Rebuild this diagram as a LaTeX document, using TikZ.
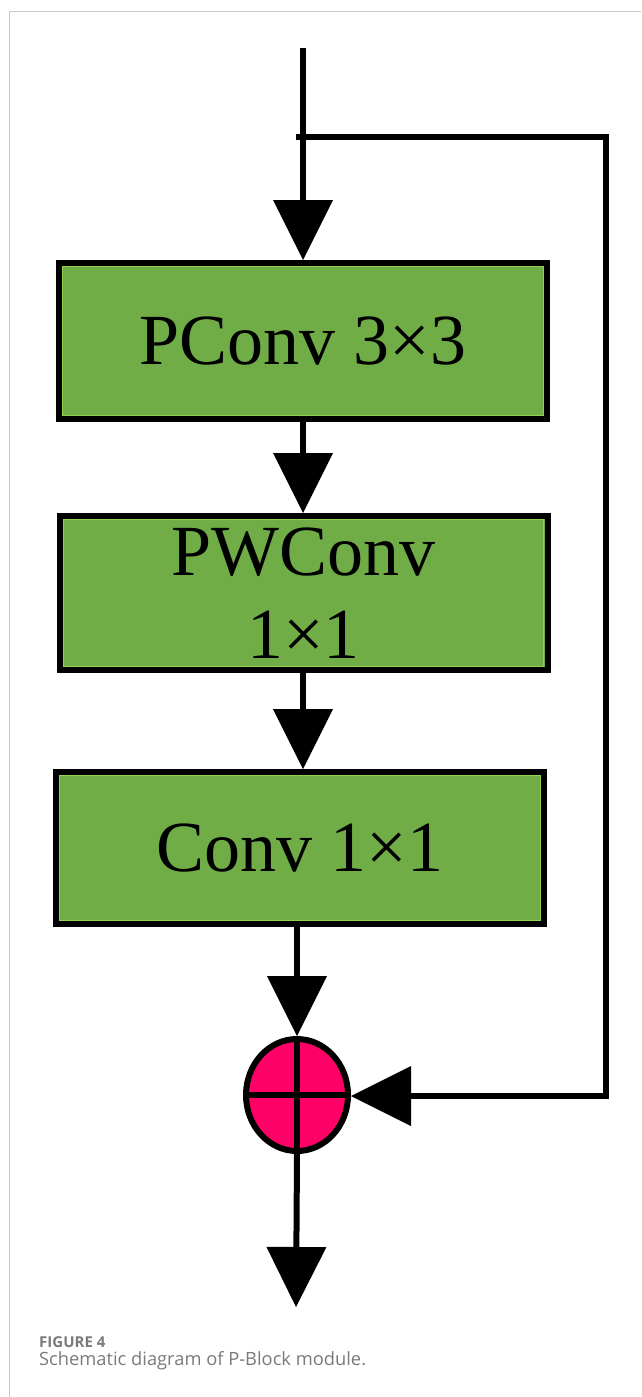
\documentclass[tikz,border=0pt]{standalone}
\usepackage{fontspec}
\setmainfont{Liberation Serif}
\newfontfamily\capfont{Open Sans}
\usetikzlibrary{arrows.meta,shapes.geometric}

\definecolor{boxgreen}{HTML}{70AD47}
\definecolor{rimgreen}{HTML}{92D050}
\definecolor{summagenta}{HTML}{FF0066}
\definecolor{framegray}{HTML}{C8C8C8}
\definecolor{capgray}{HTML}{7A7A7A}

\tikzset{
  layerbox/.style={draw=black, line width=6pt, fill=boxgreen, inner sep=0pt,
    minimum width=488pt, align=center,
    font=\fontsize{72}{83}\selectfont,
    path picture={\draw[rimgreen, line width=1.2pt]
      ([xshift=3.8pt,yshift=-3.8pt]path picture bounding box.north west) rectangle
      ([xshift=-3.8pt,yshift=3.8pt]path picture bounding box.south east);}},
  sumnode/.style={ellipse, draw=black, line width=6pt, fill=summagenta,
    inner sep=0pt, minimum width=102pt, minimum height=112pt},
  flow/.style={draw=black, line width=6pt, line join=miter,
    -{Triangle[length=60pt,width=60pt,line width=0pt]}},
  figlabel/.style={anchor=base west, inner sep=0pt, text=capgray,
    font=\capfont\bfseries\fontsize{15}{18}\selectfont},
  figcaption/.style={anchor=base west, inner sep=0pt, text=capgray,
    font=\capfont\fontsize{18.3}{22}\selectfont}
}

\begin{document}
\begin{tikzpicture}[x=1pt,y=-1pt]
  \useasboundingbox (0,0) rectangle (641,1397);

  % page frame
  \draw[framegray, line width=1pt] (9,1397) -- (9,11.5) -- (641,11.5);

  % input, split point and output ends
  \coordinate (in)    at (303,48);
  \coordinate (split) at (296,137);
  \coordinate (skipA) at (606,137);
  \coordinate (skipB) at (606,1096);
  \coordinate (out)   at (296,1307);

  % layers
  \node[layerbox, minimum height=156pt] (pconv)  at (303,341)   {PConv 3×3};
  \node[layerbox, minimum height=154pt] (pwconv) at (303.5,593) {PWConv\\1×1};
  \node[layerbox, minimum height=152pt] (conv)   at (300,848)   {Conv 1×1};

  % residual sum
  \node[sumnode] (sum) at (297,1095) {};
  \draw[line width=6pt] (sum.north) -- (sum.south) (sum.west) -- (sum.east);

  % main path
  \draw[flow] (in) -- (pconv.north);
  \draw[flow] (pconv.south) -- (pconv.south |- pwconv.north);
  \draw[flow] (pconv.south |- pwconv.south) -- (pconv.south |- conv.north);
  \draw[flow] (sum.north |- conv.south) -- (sum.north);
  \draw[flow] (sum.south) -- (out);

  % skip connection
  \draw[flow] (split) -- (skipA) -- (skipB) -- (skipB -| sum.east);

  % caption
  \node[figlabel]   (figno)  at (39,1347) {FIGURE 4};
  \node[figcaption] (figcap) at (39,1365) {Schematic diagram of P-Block module.};
\end{tikzpicture}
\end{document}
